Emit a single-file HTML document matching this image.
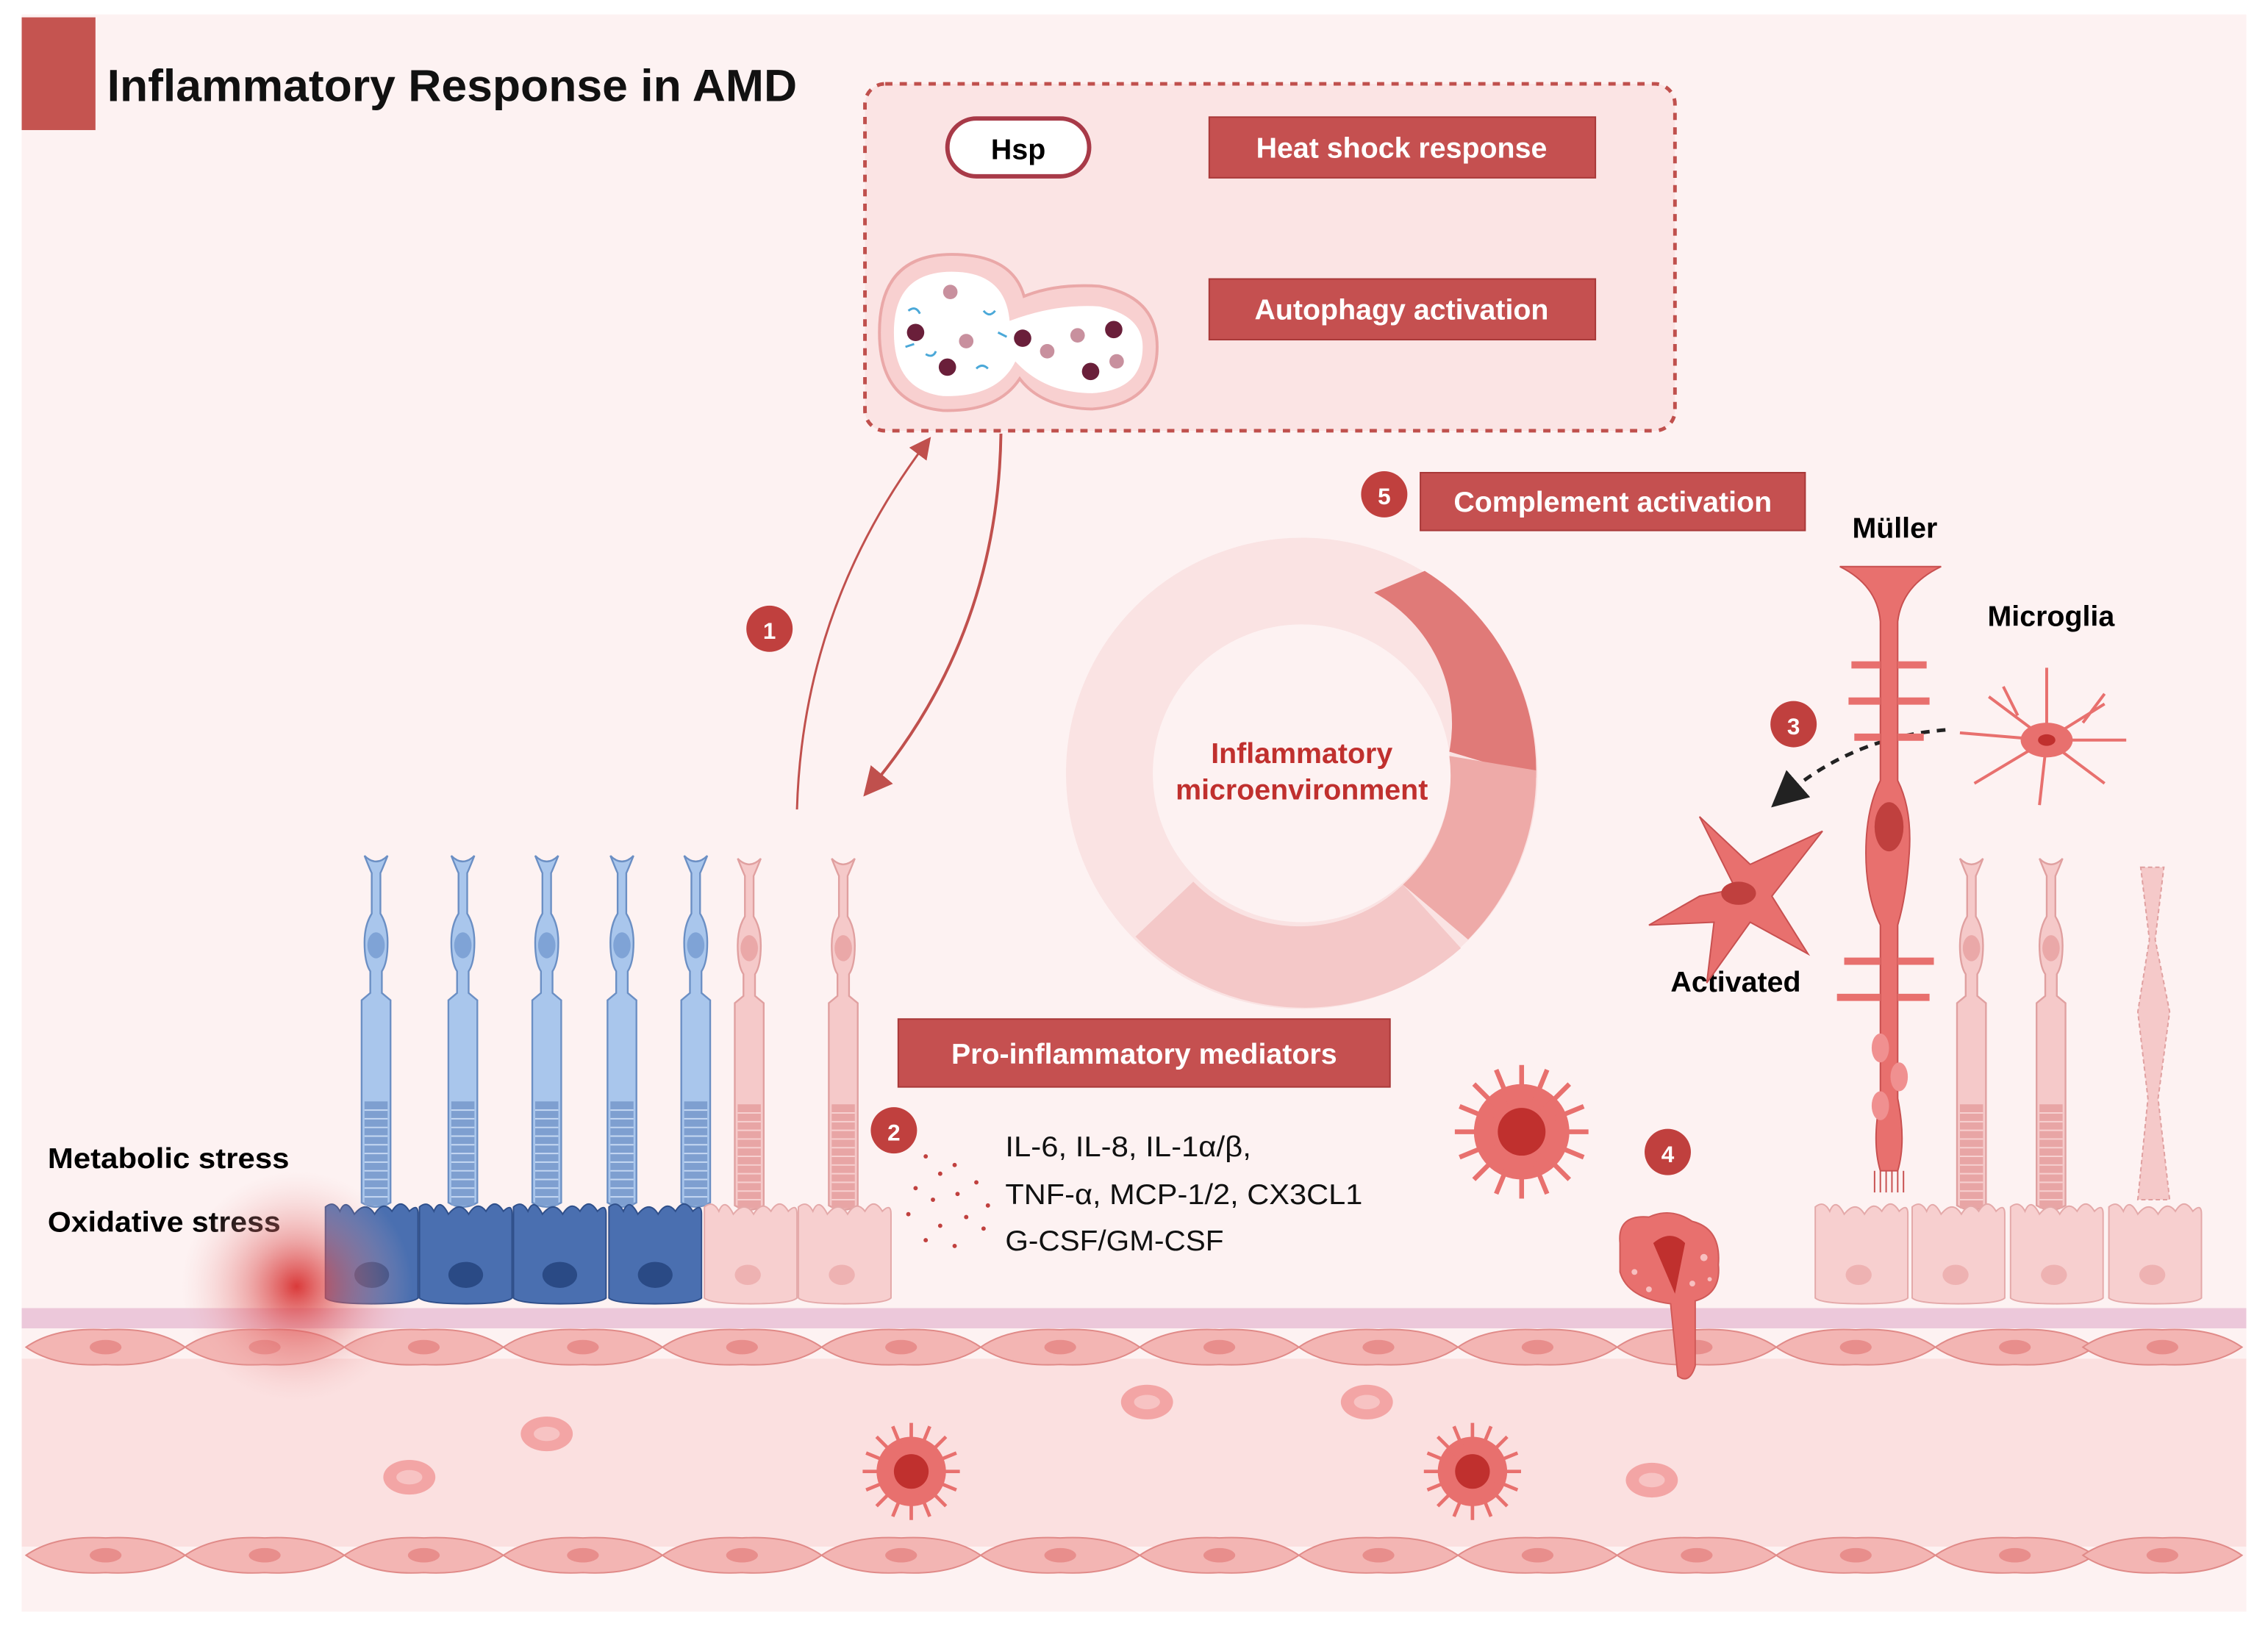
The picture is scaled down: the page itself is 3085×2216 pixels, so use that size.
<!DOCTYPE html>
<html><head><meta charset="utf-8"><style>
html,body{margin:0;padding:0;background:#fff;}
svg{display:block;}
text{font-family:"Liberation Sans",sans-serif;}
</style></head><body>
<svg width="3085" height="2216" viewBox="0 0 1568 1127" preserveAspectRatio="none" xmlns="http://www.w3.org/2000/svg">
<defs>
<radialGradient id="glow"><stop offset="0" stop-color="#d83030" stop-opacity="0.95"/><stop offset="0.4" stop-color="#e06060" stop-opacity="0.5"/><stop offset="1" stop-color="#f3c0c0" stop-opacity="0"/></radialGradient>
<marker id="ah" markerWidth="10" markerHeight="10" refX="6" refY="5" orient="auto"><path d="M0,0 L10,5 L0,10 z" fill="#c0504d"/></marker>
<marker id="ahk" markerWidth="10" markerHeight="10" refX="6" refY="5" orient="auto"><path d="M0,0 L10,5 L0,10 z" fill="#222"/></marker>
<g id="bluePR">
<path d="M-8,0 Q-4,10 -3,12 L-3,40 Q-8,48 -8,60 Q-8,74 -4,80 L-4,95 L-10,100 L-10,240 Q0,246 10,240 L10,100 L4,95 L4,80 Q8,74 8,60 Q8,48 3,40 L3,12 Q4,10 8,0 Q0,8 -8,0z" fill="#a9c6ec" stroke="#6b8fc4" stroke-width="1.2"/>
<ellipse cx="0" cy="62" rx="6" ry="9" fill="#7fa3d6"/>
<rect x="-8" y="170" width="16" height="72" fill="#7e9fd0"/>
<g stroke="#c5d8f2" stroke-width="1"><path d="M-8,176h16M-8,182h16M-8,188h16M-8,194h16M-8,200h16M-8,206h16M-8,212h16M-8,218h16M-8,224h16M-8,230h16M-8,236h16"/></g>
</g>
<g id="pinkPR">
<path d="M-8,0 Q-4,10 -3,12 L-3,40 Q-8,48 -8,60 Q-8,74 -4,80 L-4,95 L-10,100 L-10,240 Q0,246 10,240 L10,100 L4,95 L4,80 Q8,74 8,60 Q8,48 3,40 L3,12 Q4,10 8,0 Q0,8 -8,0z" fill="#f5c9c9" stroke="#e0a0a0" stroke-width="1.2"/>
<ellipse cx="0" cy="62" rx="6" ry="9" fill="#eaa8a8"/>
<rect x="-8" y="170" width="16" height="72" fill="#e8a5a5"/>
<g stroke="#f6d0d0" stroke-width="1"><path d="M-8,176h16M-8,182h16M-8,188h16M-8,194h16M-8,200h16M-8,206h16M-8,212h16M-8,218h16M-8,224h16M-8,230h16M-8,236h16"/></g>
</g>
<g id="blueRPE"><path d="M0,5 Q6,0 10,8 Q14,-2 20,10 Q28,0 34,10 Q40,0 46,8 Q52,-2 58,8 Q64,2 64,10 L64,68 Q60,72 32,72 Q4,72 0,68z" fill="#4a6fb0" stroke="#2f4f8a"/><ellipse cx="32" cy="52" rx="12" ry="9" fill="#2a4a85"/></g>
<g id="pinkRPE"><path d="M0,5 Q6,0 10,8 Q14,-2 20,10 Q28,0 34,10 Q40,0 46,8 Q52,-2 58,8 Q64,2 64,10 L64,68 Q60,72 32,72 Q4,72 0,68z" fill="#f7cfcf" stroke="#e4a9a9"/><ellipse cx="30" cy="52" rx="9" ry="7" fill="#eeb2b2"/></g>
<g id="endo"><path d="M0,14 Q20,0 55,2 Q90,0 110,14 Q90,28 55,26 Q20,28 0,14z" fill="#f3b5b3" stroke="#e08a88"/><ellipse cx="55" cy="14" rx="11" ry="5" fill="#e88e8c"/></g>
<g id="spiky"><circle r="30" fill="#e8706e"/><g stroke="#e8706e" stroke-width="3">
<path d="M0,-42V42M-42,0H42M-30,-30L30,30M30,-30L-30,30M-16,-39L16,39M16,-39L-16,39M-39,-16L39,16M39,-16L-39,16"/></g><circle r="15" fill="#c0302e"/></g>
<g id="rbc"><ellipse rx="18" ry="12" fill="#f3a5a5"/><ellipse rx="9" ry="5" fill="#f7c3c3"/></g>
</defs>
<rect width="1568" height="1127" fill="#fff"/>
<rect x="15" y="10" width="1538" height="1105" fill="#fdf2f2"/>
<rect x="15" y="12" width="51" height="78" fill="#c55450"/>
<text x="74" y="70" font-size="31" font-weight="bold" fill="#111" textLength="477" lengthAdjust="spacingAndGlyphs">Inflammatory Response in AMD</text>

<rect x="598" y="58" width="560" height="240" rx="14" fill="#fbe4e4" stroke="#c0504d" stroke-width="2.5" stroke-dasharray="5,5"/>
<rect x="655" y="82" width="98" height="40" rx="20" fill="#fff" stroke="#a83a48" stroke-width="3"/>
<text x="704" y="110" font-size="20" font-weight="bold" text-anchor="middle">Hsp</text>
<rect x="836" y="81" width="267" height="42" fill="#c55050" stroke="#a83838"/>
<text x="969" y="109" font-size="20" font-weight="bold" fill="#fff" text-anchor="middle">Heat shock response</text>
<rect x="836" y="193" width="267" height="42" fill="#c55050" stroke="#a83838"/>
<text x="969" y="221" font-size="20" font-weight="bold" fill="#fff" text-anchor="middle">Autophagy activation</text>
<path d="M658,176 Q700,176 708,205 Q730,196 760,198 Q800,205 800,240 Q800,280 755,283 Q720,282 705,262 Q690,285 652,284 Q608,280 608,230 Q608,176 658,176z" fill="#f8d0d0" stroke="#eaa8a8" stroke-width="2"/>
<path d="M658,188 Q695,188 698,222 Q730,210 760,212 Q790,218 790,240 Q790,270 755,272 Q722,272 702,250 Q690,275 652,274 Q618,270 618,230 Q618,188 658,188z" fill="#fff"/>
<g fill="#6a1f3a"><circle cx="633" cy="230" r="6"/><circle cx="655" cy="254" r="6"/><circle cx="707" cy="234" r="6"/><circle cx="770" cy="228" r="6"/><circle cx="754" cy="257" r="6"/></g>
<g fill="#c8909e"><circle cx="668" cy="236" r="5"/><circle cx="657" cy="202" r="5"/><circle cx="724" cy="243" r="5"/><circle cx="745" cy="232" r="5"/><circle cx="772" cy="250" r="5"/></g>
<g stroke="#4aa8d8" stroke-width="1.5" fill="none"><path d="M628,215q5,-4 8,2M680,215q4,5 8,0M640,245q5,3 7,-2M675,255q4,-4 8,0M690,230l6,3M626,240l6,-2"/></g>

<path d="M551,560 Q555,420 640,307" fill="none" stroke="#c0504d" stroke-width="1.5" marker-end="url(#ah)"/>
<path d="M692,300 Q690,440 602,545" fill="none" stroke="#c0504d" stroke-width="2" marker-end="url(#ah)"/>
<circle cx="532" cy="435" r="16" fill="#c0403e"/><text x="532" y="442" font-size="16" font-weight="bold" fill="#fff" text-anchor="middle">1</text>

<circle cx="957" cy="342" r="16" fill="#c0403e"/><text x="957" y="349" font-size="16" font-weight="bold" fill="#fff" text-anchor="middle">5</text>
<rect x="982" y="327" width="266" height="40" fill="#c55050" stroke="#a83838"/>
<text x="1115" y="354" font-size="20" font-weight="bold" fill="#fff" text-anchor="middle">Complement activation</text>

<circle cx="900" cy="535" r="133" fill="none" stroke="#fae3e3" stroke-width="60"/>
<path d="M950,410 L985,395 A163,163 0 0 1 1062,538 L1002,520 A103,103 0 0 0 950,410z" fill="#e07a78"/>
<path d="M1002,523 L1062,533 A163,163 0 0 1 1015,650 L970,612 A103,103 0 0 0 1002,523z" fill="#eeaaa8"/>
<path d="M970,612 L1010,656 A163,163 0 0 1 785,648 L825,610 A103,103 0 0 0 970,612z" fill="#f4c8c8"/>
<text x="900" y="528" font-size="20" font-weight="bold" fill="#c0302e" text-anchor="middle">Inflammatory</text>
<text x="900" y="553" font-size="20" font-weight="bold" fill="#c0302e" text-anchor="middle">microenvironment</text>

<text x="1310" y="372" font-size="20" font-weight="bold" text-anchor="middle">Müller</text>
<text x="1418" y="433" font-size="20" font-weight="bold" text-anchor="middle">Microglia</text>
<text x="1200" y="686" font-size="20" font-weight="bold" text-anchor="middle">Activated</text>
<circle cx="1240" cy="501" r="16" fill="#c0403e"/><text x="1240" y="508" font-size="16" font-weight="bold" fill="#fff" text-anchor="middle">3</text>
<path d="M1345,505 Q1280,510 1232,552" fill="none" stroke="#222" stroke-width="2.5" stroke-dasharray="6,5" marker-end="url(#ahk)"/>
<path d="M1272,392 L1342,392 Q1315,405 1312,430 L1312,540 Q1322,560 1320,590 Q1318,620 1312,640 L1312,760 Q1318,790 1312,810 L1300,810 Q1294,790 1300,760 L1300,640 Q1290,620 1290,590 Q1290,560 1300,540 L1300,430 Q1298,405 1272,392z" fill="#e8706e" stroke="#c85050"/>
<g stroke="#e8706e" stroke-width="5" fill="none"><path d="M1300,460h-20M1312,460h20M1300,485h-22M1312,485h22M1300,510h-18M1312,510h18M1300,665h-25M1312,665h25M1300,690h-30M1312,690h22"/></g>
<ellipse cx="1306" cy="572" rx="10" ry="17" fill="#c0403e"/>
<g fill="#f09090"><ellipse cx="1300" cy="725" rx="6" ry="10"/><ellipse cx="1313" cy="745" rx="6" ry="10"/><ellipse cx="1300" cy="765" rx="6" ry="10"/></g>
<path d="M1296,810v15M1300,810v15M1304,810v15M1308,810v15M1312,810v15M1316,810v15" stroke="#c85050"/>
<g stroke="#e8706e" stroke-width="2" fill="none"><path d="M1415,512l-40,-30M1415,512l-60,-5M1415,512l-50,30M1415,512l-5,45M1415,512l40,30M1415,512l55,0M1415,512l40,-25M1415,512l0,-50M1395,495l-10,-20M1440,500l15,-20"/></g>
<ellipse cx="1415" cy="512" rx="18" ry="12" fill="#e8706e"/><ellipse cx="1415" cy="512" rx="6" ry="4" fill="#c0302e"/>
<path d="M1200,615 L1175,565 L1210,598 L1260,575 L1225,620 L1250,660 L1210,638 L1180,680 L1185,638 L1140,640 L1175,620z" fill="#e8706e" stroke="#c85050"/>
<ellipse cx="1202" cy="618" rx="12" ry="8" fill="#c0403e"/>

<rect x="621" y="705" width="340" height="47" fill="#c55050" stroke="#a83838"/>
<text x="791" y="736" font-size="20" font-weight="bold" fill="#fff" text-anchor="middle">Pro-inflammatory mediators</text>
<circle cx="618" cy="782" r="16" fill="#c0403e"/><text x="618" y="789" font-size="16" font-weight="bold" fill="#fff" text-anchor="middle">2</text>
<text x="695" y="800" font-size="20" fill="#111" textLength="170" lengthAdjust="spacingAndGlyphs">IL-6, IL-8, IL-1α/β,</text>
<text x="695" y="833" font-size="20" fill="#111" textLength="247" lengthAdjust="spacingAndGlyphs">TNF-α, MCP-1/2, CX3CL1</text>
<text x="695" y="865" font-size="20" fill="#111" textLength="151" lengthAdjust="spacingAndGlyphs">G-CSF/GM-CSF</text>
<g fill="#c0403e"><circle cx="640" cy="800" r="1.5"/><circle cx="650" cy="812" r="1.5"/><circle cx="660" cy="806" r="1.5"/><circle cx="633" cy="822" r="1.5"/><circle cx="645" cy="830" r="1.5"/><circle cx="662" cy="826" r="1.5"/><circle cx="675" cy="818" r="1.5"/><circle cx="628" cy="840" r="1.5"/><circle cx="650" cy="848" r="1.5"/><circle cx="668" cy="842" r="1.5"/><circle cx="640" cy="858" r="1.5"/><circle cx="683" cy="834" r="1.5"/><circle cx="660" cy="862" r="1.5"/><circle cx="680" cy="850" r="1.5"/></g>
<circle cx="1153" cy="797" r="16" fill="#c0403e"/><text x="1153" y="804" font-size="16" font-weight="bold" fill="#fff" text-anchor="middle">4</text>
<g transform="translate(1052,783) scale(1.1)"><use href="#spiky"/></g>

<text x="33" y="808" font-size="20" font-weight="bold" textLength="167" lengthAdjust="spacingAndGlyphs">Metabolic stress</text>
<text x="33" y="852" font-size="20" font-weight="bold" textLength="161" lengthAdjust="spacingAndGlyphs">Oxidative stress</text>

<use href="#bluePR" x="260" y="592"/><use href="#bluePR" x="320" y="592"/><use href="#bluePR" x="378" y="592"/><use href="#bluePR" x="430" y="592"/><use href="#bluePR" x="481" y="592"/>
<use href="#pinkPR" x="518" y="594"/><use href="#pinkPR" x="583" y="594"/>
<use href="#pinkPR" x="1363" y="594"/><use href="#pinkPR" x="1418" y="594"/>
<path d="M1480,600 L1496,600 L1490,650 L1500,700 L1492,760 L1500,830 L1478,830 L1485,760 L1478,700 L1486,650z" fill="#f5c9c9" stroke="#e0a0a0" stroke-dasharray="3,2"/>
<use href="#blueRPE" x="225" y="830"/><use href="#blueRPE" x="290" y="830"/><use href="#blueRPE" x="355" y="830"/><use href="#blueRPE" x="421" y="830"/>
<use href="#pinkRPE" x="487" y="830"/><use href="#pinkRPE" x="552" y="830"/>
<use href="#pinkRPE" x="1255" y="830"/><use href="#pinkRPE" x="1322" y="830"/><use href="#pinkRPE" x="1390" y="830"/><use href="#pinkRPE" x="1458" y="830"/>

<rect x="15" y="905" width="1538" height="14" fill="#ecc8da"/>
<rect x="15" y="940" width="1538" height="130" fill="#fbe0e0"/>
<g>
<use href="#endo" x="18" y="918"/><use href="#endo" x="128" y="918"/><use href="#endo" x="238" y="918"/><use href="#endo" x="348" y="918"/><use href="#endo" x="458" y="918"/><use href="#endo" x="568" y="918"/><use href="#endo" x="678" y="918"/><use href="#endo" x="788" y="918"/><use href="#endo" x="898" y="918"/><use href="#endo" x="1008" y="918"/><use href="#endo" x="1118" y="918"/><use href="#endo" x="1228" y="918"/><use href="#endo" x="1338" y="918"/><use href="#endo" x="1440" y="918"/>
<use href="#endo" x="18" y="1062"/><use href="#endo" x="128" y="1062"/><use href="#endo" x="238" y="1062"/><use href="#endo" x="348" y="1062"/><use href="#endo" x="458" y="1062"/><use href="#endo" x="568" y="1062"/><use href="#endo" x="678" y="1062"/><use href="#endo" x="788" y="1062"/><use href="#endo" x="898" y="1062"/><use href="#endo" x="1008" y="1062"/><use href="#endo" x="1118" y="1062"/><use href="#endo" x="1228" y="1062"/><use href="#endo" x="1338" y="1062"/><use href="#endo" x="1440" y="1062"/>
</g>
<path d="M1120,860 Q1118,840 1140,842 Q1155,835 1170,845 Q1190,850 1188,875 Q1190,895 1172,900 L1172,945 Q1168,958 1160,952 L1155,902 Q1125,898 1120,880z" fill="#e8706e" stroke="#d05a58"/>
<g fill="#f7c0c0"><circle cx="1130" cy="880" r="2"/><circle cx="1178" cy="870" r="2.5"/><circle cx="1170" cy="888" r="2"/><circle cx="1140" cy="892" r="2"/><circle cx="1182" cy="885" r="1.5"/></g>
<path d="M1143,860 Q1155,850 1165,860 L1158,895z" fill="#c0302e"/>
<use href="#rbc" x="378" y="992"/><use href="#rbc" x="283" y="1022"/><use href="#rbc" x="793" y="970"/><use href="#rbc" x="945" y="970"/><use href="#rbc" x="1142" y="1024"/>
<g transform="translate(630,1018) scale(0.8)"><use href="#spiky"/></g>
<g transform="translate(1018,1018) scale(0.8)"><use href="#spiky"/></g>
<circle cx="205" cy="890" r="80" fill="url(#glow)"/>
</svg>
</body></html>
